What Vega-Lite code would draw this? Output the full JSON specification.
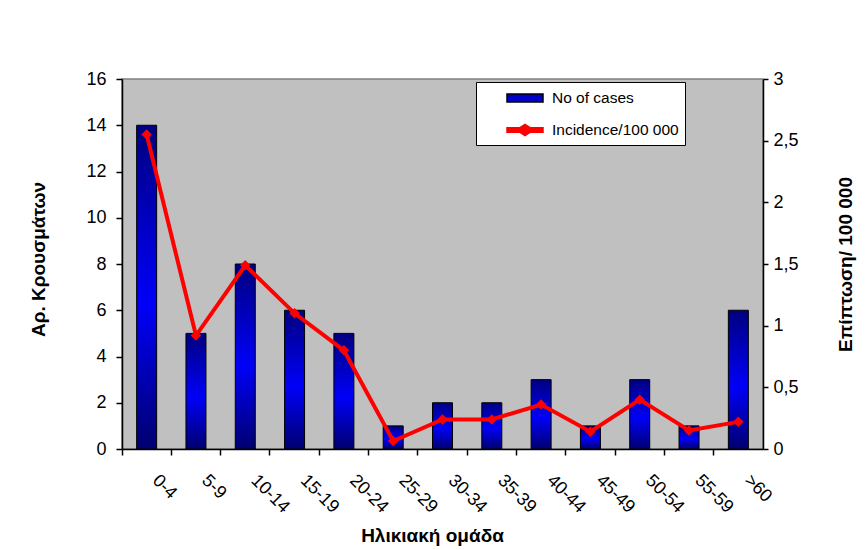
{
  "$schema": "https://vega.github.io/schema/vega-lite/v6.json",
  "width": 641,
  "height": 370,
  "autosize": {"type": "none"},
  "padding": {"left": 122, "top": 79, "right": 102, "bottom": 101},
  "background": "white",
  "config": {
    "font": "Liberation Sans",
    "view": {"fill": "#c0c0c0", "stroke": "#808080", "strokeWidth": 1.5},
    "axis": {"grid": false, "domainColor": "black", "tickColor": "black", "labelColor": "black", "titleColor": "black", "labelFont": "Liberation Sans", "titleFont": "Liberation Sans", "labelFontSize": 18, "titleFontSize": 19, "titleFontWeight": "bold", "domainWidth": 1.5, "tickWidth": 1.5},
    "legend": {
      "orient": "none",
      "legendX": 354,
      "legendY": 3,
      "fillColor": "white",
      "strokeColor": "black",
      "padding": 6,
      "symbolOffset": 33,
      "symbolSize": 324,
      "symbolStrokeWidth": 1.5,
      "symbolOpacity": 1,
      "labelFont": "Liberation Sans",
      "labelFontSize": 15.5,
      "labelColor": "black",
      "labelOffset": 17,
      "rowPadding": 13
    }
  },
  "data": {"values": [
    {"age": "0-4", "cases": 14, "incidence": 2.55},
    {"age": "5-9", "cases": 5, "incidence": 0.92},
    {"age": "10-14", "cases": 8, "incidence": 1.49},
    {"age": "15-19", "cases": 6, "incidence": 1.1},
    {"age": "20-24", "cases": 5, "incidence": 0.8},
    {"age": "25-29", "cases": 1, "incidence": 0.065},
    {"age": "30-34", "cases": 2, "incidence": 0.24},
    {"age": "35-39", "cases": 2, "incidence": 0.24},
    {"age": "40-44", "cases": 3, "incidence": 0.36},
    {"age": "45-49", "cases": 1, "incidence": 0.14},
    {"age": "50-54", "cases": 3, "incidence": 0.4},
    {"age": "55-59", "cases": 1, "incidence": 0.15},
    {"age": ">60", "cases": 6, "incidence": 0.22}
  ]},
  "encoding": {
    "x": {"field": "age", "type": "nominal", "sort": null,
      "scale": {"paddingInner": 0, "paddingOuter": 0},
      "axis": {"title": "Ηλικιακή ομάδα", "labelAngle": 45, "labelAlign": "left", "labelBaseline": "top", "labelPadding": 16, "labelOffset": 15, "tickSize": 6, "bandPosition": 0, "titleX": 310, "titleAlign": "center", "titleY": 86, "titleBaseline": "middle"}}
  },
  "layer": [
    {
      "mark": {"type": "bar", "size": 20, "strokeWidth": 1, "stroke": "black",
        "fill": {"gradient": "linear", "x1": 0, "y1": 0, "x2": 0, "y2": 1, "stops": [{"offset": 0, "color": "#000080"}, {"offset": 0.55, "color": "#0000f8"}, {"offset": 1, "color": "#000070"}]}},
      "encoding": {
        "y": {"field": "cases", "type": "quantitative", "scale": {"domain": [0, 16], "nice": false},
          "axis": {"title": "Αρ. Κρουσμάτων", "values": [0, 2, 4, 6, 8, 10, 12, 14, 16], "tickSize": 6, "labelPadding": 10, "titleX": -84, "titleY": 180, "titleAlign": "center", "titleBaseline": "middle"}}
      }
    },
    {
      "mark": {"type": "line", "strokeWidth": 4, "stroke": "#ff0000", "point": {"shape": "diamond", "size": 110, "filled": true, "fill": "#ff0000", "opacity": 1}},
      "encoding": {
        "y": {"field": "incidence", "type": "quantitative", "scale": {"domain": [0, 3], "nice": false},
          "axis": {"orient": "right", "title": "Επίπτωση/ 100 000", "values": [0, 0.5, 1, 1.5, 2, 2.5, 3], "labelExpr": "replace(format(datum.value, ''), '.', ',')", "tickSize": 5, "labelPadding": 5, "titleAngle": -90, "titleX": 82, "titleY": 185, "titleAlign": "center", "titleBaseline": "middle"}}
      }
    },
    {
      "mark": {"type": "point", "size": 0, "filled": true},
      "encoding": {
        "fill": {"datum": "No of cases", "type": "nominal",
          "scale": {"domain": ["No of cases", "Incidence/100 000"], "range": ["#0000c8", "#ff0000"]},
          "legend": {"title": null}},
        "shape": {"datum": "No of cases", "type": "nominal",
          "scale": {"domain": ["No of cases", "Incidence/100 000"], "range": ["M-2,-0.44H2V0.44H-2Z", "M-2,-0.24H-0.6L0,-0.62L0.6,-0.24H2V0.24H0.6L0,0.62L-0.6,0.24H-2Z"]},
          "legend": {"title": null}},
        "stroke": {"datum": "No of cases", "type": "nominal",
          "scale": {"domain": ["No of cases", "Incidence/100 000"], "range": ["#000000", "#ff0000"]},
          "legend": {"title": null}}
      }
    }
  ],
  "resolve": {"scale": {"y": "independent"}}
}
